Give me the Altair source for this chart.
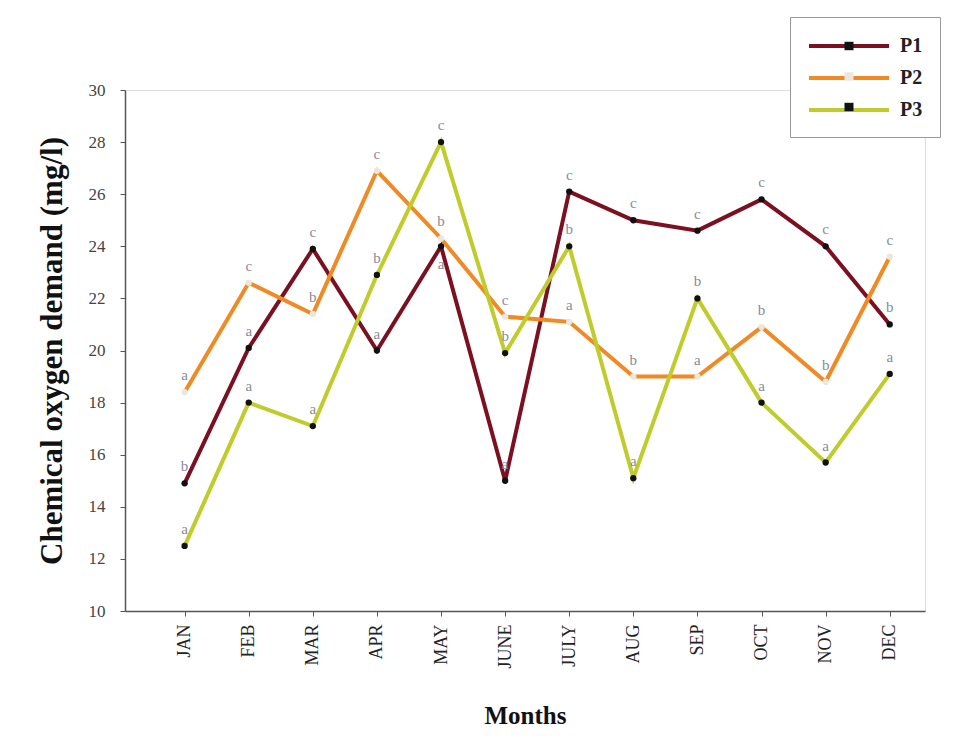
import json
import altair as alt
import pandas as pd

# Monthly chemical oxygen demand (mg/l) at three sites
months = ["JAN", "FEB", "MAR", "APR", "MAY", "JUNE", "JULY", "AUG", "SEP", "OCT", "NOV", "DEC"]
p1 = [14.9, 20.1, 23.9, 20.0, 24.0, 15.0, 26.1, 25.0, 24.6, 25.8, 24.0, 21.0]
p2 = [18.4, 22.6, 21.4, 26.9, 24.3, 21.3, 21.1, 19.0, 19.0, 20.9, 18.8, 23.6]
p3 = [12.5, 18.0, 17.1, 22.9, 28.0, 19.9, 24.0, 15.1, 22.0, 18.0, 15.7, 19.1]

# Significance letters for each point
letters_p1 = ["b", "a", "c", "a", "a", "a", "c", "c", "c", "c", "c", "b"]
letters_p2 = ["a", "c", "b", "c", "b", "c", "a", "b", "a", "b", "b", "c"]
letters_p3 = ["a", "a", "a", "b", "c", "b", "b", "a", "b", "a", "a", "a"]

series_names = ["P1", "P2", "P3"]
line_colors = ["#7a1020", "#f08a24", "#bfcc2c"]
marker_fills = ["#111111", "#ece6dc", "#111111"]

series_vals = [p1, p2, p3]
rows = []
for s, (name, vals, lets) in enumerate(zip(series_names, series_vals, [letters_p1, letters_p2, letters_p3])):
    for i, (m, v, l) in enumerate(zip(months, vals, lets)):
        # a letter goes under its point when another series sits just above it
        crowded = any(
            0 < series_vals[o][i] - v < 1.0 for o in range(len(series_vals)) if o != s
        )
        rows.append({"idx": i, "month": m, "series": name, "marker": name, "value": v,
                     "letter": l, "below": crowded})
df = pd.DataFrame(rows)

serif = "Liberation Serif"
month_expr = json.dumps(months) + "[datum.value]"

x_enc = alt.X(
    "idx:Q",
    scale=alt.Scale(domain=[-0.93, 11.55], nice=False, zero=False),
    axis=alt.Axis(
        values=list(range(len(months))),
        labelExpr=month_expr,
        labelAngle=270,
        labelFont=serif,
        labelFontSize=18,
        labelColor="#222222",
        labelPadding=8,
        tickSize=5,
        tickColor="#555555",
        domainColor="#555555",
        domainWidth=1.5,
        grid=False,
        title="Months",
        titleFont=serif,
        titleFontSize=25,
        titleFontWeight="bold",
        titleColor="#111111",
        titlePadding=36,
    ),
)
y_enc = alt.Y(
    "value:Q",
    scale=alt.Scale(domain=[10, 30], nice=False, zero=False),
    axis=alt.Axis(
        values=list(range(10, 31, 2)),
        format="d",
        labelFont=serif,
        labelFontSize=17,
        labelColor="#444444",
        labelPadding=15,
        tickSize=5,
        tickColor="#555555",
        domainColor="#555555",
        domainWidth=1.5,
        grid=False,
        title="Chemical oxygen demand (mg/l)",
        titleFont=serif,
        titleFontSize=31,
        titleFontWeight="bold",
        titleColor="#111111",
        titlePadding=20,
    ),
)

base = alt.Chart(df).encode(x=x_enc, y=y_enc)

# two legends stacked in the same box: one draws the line swatches and labels,
# the other overlays the marker squares
legend_common = dict(
    title=None,
    orient="none",
    legendX=665,
    legendY=-73,
    symbolSize=400,
    symbolStrokeWidth=4,
    labelFont=serif,
    labelFontSize=20,
    labelFontWeight="bold",
    labelOffset=69,
    padding=17,
)
line_legend = alt.Legend(
    symbolType="M-1,0L7,0",
    labelColor="#222222",
    strokeColor="#999999",
    fillColor="#ffffff",
    rowPadding=10,
    **legend_common,
)
marker_legend = alt.Legend(
    symbolType="M2.55,-0.42h0.9v0.84h-0.9z",
    symbolStrokeColor="transparent",
    labelExpr="''",
    rowPadding=4.5,
    **legend_common,
)

lines = base.mark_line(strokeWidth=4).encode(
    color=alt.Color("series:N", scale=alt.Scale(domain=series_names, range=line_colors), legend=line_legend)
)

points = base.mark_point(filled=True, size=40, shape="circle", strokeWidth=0, opacity=1).encode(
    fill=alt.Fill("marker:N", scale=alt.Scale(range=marker_fills), legend=marker_legend),
)

text_style = dict(font=serif, fontSize=15, color="#8a8a98")
letters_above = base.transform_filter("!datum.below").mark_text(dy=-17, **text_style).encode(text="letter:N")
letters_below = base.transform_filter("datum.below").mark_text(dy=18, **text_style).encode(text="letter:N")

chart = (
    alt.layer(lines, points, letters_above, letters_below)
    .properties(
        width=800,
        height=521,
        autosize=alt.AutoSizeParams(type="none"),
        padding={"left": 125, "top": 90, "right": 28, "bottom": 128},
    )
    .configure_view(stroke=None)
    .configure(background="white")
)

chart.save("out.html", embed_options={"renderer": "svg", "actions": False})
